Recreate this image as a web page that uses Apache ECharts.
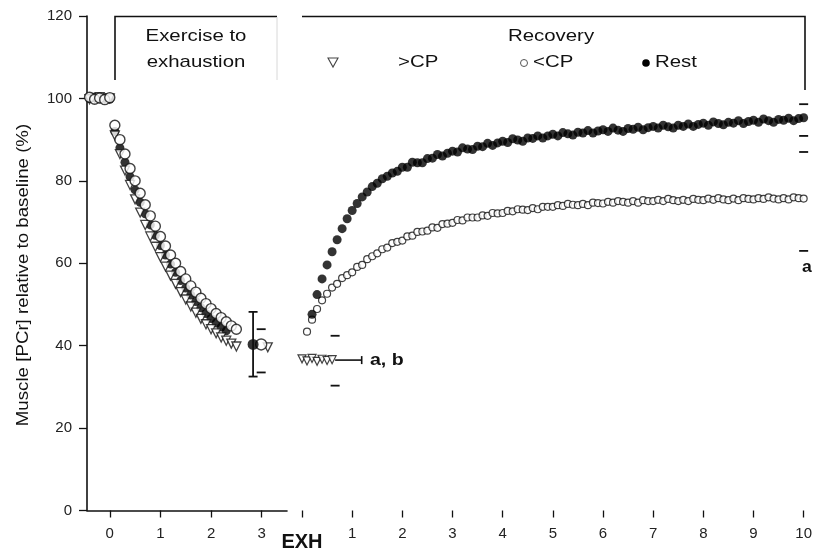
<!DOCTYPE html>
<html>
<head>
<meta charset="utf-8">
<script src="https://cdn.jsdelivr.net/npm/echarts@6/dist/echarts.min.js"></script>
<style>
  html, body { margin: 0; padding: 0; background: #fff; }
  #chart { width: 815px; height: 554px; }
</style>
</head>
<body>
<div id="chart"></div>
<script>
// Muscle [PCr] during exercise to exhaustion and during 10 min of recovery.

// ---- exercise phase (min from exercise onset) ----
const exTime = [-0.4, -0.3, -0.2, -0.1, 0.0, 0.1, 0.2, 0.3, 0.4, 0.5, 0.6, 0.7, 0.8, 0.9, 1.0,
                1.1, 1.2, 1.3, 1.4, 1.5, 1.6, 1.7, 1.8, 1.9, 2.0, 2.1, 2.2, 2.3, 2.4, 2.5];
const exBelowCP = [100.3, 99.8, 100.1, 99.7, 100.2, 93.5, 90.0, 86.5, 83.0, 80.0, 77.0, 74.2, 71.5, 69.0, 66.5,
                   64.2, 62.0, 60.0, 58.0, 56.2, 54.5, 53.0, 51.5, 50.2, 49.0, 47.8, 46.8, 45.8, 44.8, 44.0];
const exRest = [100.0, 100.2, 99.9, 100.1, 99.8, 92.0, 88.0, 84.5, 81.0, 77.8, 74.8, 72.0, 69.3, 66.8, 64.3,
                62.0, 59.8, 57.8, 55.8, 54.0, 52.3, 50.7, 49.2, 47.8, 46.6, 45.5, 44.5, 43.6, null, null];
const exAboveCP = [99.8, 100.1, 100.3, 99.9, 100.0, 91.0, 86.5, 82.5, 79.0, 75.5, 72.3, 69.3, 66.5, 64.0, 61.5,
                   59.2, 57.0, 55.0, 53.0, 51.2, 49.5, 48.0, 46.5, 45.2, 44.0, 43.0, 42.0, 41.2, 40.5, 39.8];

// values at exhaustion: Rest, <CP, >CP groups
const exhTime = [2.83, 2.99, 3.12];
const exhValue = [40.3, 40.3, 39.6];
const exhLow = [32.5, 33.5, null];
const exhHigh = [48.2, 44.0, null];

// ---- recovery phase (min after exhaustion) ----
const recTime = [0.1, 0.2, 0.3, 0.4, 0.5, 0.6, 0.7, 0.8, 0.9, 1.0,
                 1.1, 1.2, 1.3, 1.4, 1.5, 1.6, 1.7, 1.8, 1.9, 2.0,
                 2.1, 2.2, 2.3, 2.4, 2.5, 2.6, 2.7, 2.8, 2.9, 3.0,
                 3.1, 3.2, 3.3, 3.4, 3.5, 3.6, 3.7, 3.8, 3.9, 4.0,
                 4.1, 4.2, 4.3, 4.4, 4.5, 4.6, 4.7, 4.8, 4.9, 5.0,
                 5.1, 5.2, 5.3, 5.4, 5.5, 5.6, 5.7, 5.8, 5.9, 6.0,
                 6.1, 6.2, 6.3, 6.4, 6.5, 6.6, 6.7, 6.8, 6.9, 7.0,
                 7.1, 7.2, 7.3, 7.4, 7.5, 7.6, 7.7, 7.8, 7.9, 8.0,
                 8.1, 8.2, 8.3, 8.4, 8.5, 8.6, 8.7, 8.8, 8.9, 9.0,
                 9.1, 9.2, 9.3, 9.4, 9.5, 9.6, 9.7, 9.8, 9.9, 10.0];
const recRest = [null, 47.6, 52.4, 56.2, 59.6, 62.8, 65.7, 68.4, 70.8, 72.8,
                 74.5, 76.1, 77.3, 78.6, 79.4, 80.5, 81.1, 81.9, 82.3, 83.3,
                 83.3, 84.5, 84.4, 84.4, 85.4, 85.5, 86.4, 86.0, 86.7, 87.2,
                 87.0, 88.0, 87.7, 87.6, 88.4, 88.3, 89.1, 88.6, 89.2, 89.6,
                 89.3, 90.2, 89.9, 89.6, 90.4, 90.3, 90.9, 90.4, 90.9, 91.3,
                 90.9, 91.7, 91.4, 91.1, 91.8, 91.6, 92.2, 91.6, 92.1, 92.4,
                 92.0, 92.8, 92.3, 92.0, 92.7, 92.5, 93.0, 92.4, 92.9, 93.2,
                 92.8, 93.5, 93.1, 92.8, 93.5, 93.2, 93.8, 93.2, 93.7, 94.0,
                 93.5, 94.3, 93.9, 93.6, 94.2, 94.0, 94.6, 93.9, 94.4, 94.7,
                 94.2, 95.0, 94.6, 94.2, 94.9, 94.7, 95.2, 94.6, 95.1, 95.3];
const recBelowCP = [43.4, 46.3, 48.9, 51.0, 52.6, 54.1, 55.0, 56.4, 57.1, 57.8,
                    59.1, 59.6, 61.0, 61.7, 62.4, 63.4, 63.8, 64.9, 65.2, 65.5,
                    66.5, 66.7, 67.6, 67.7, 67.9, 68.7, 68.6, 69.5, 69.6, 69.8,
                    70.5, 70.4, 71.1, 71.1, 71.1, 71.6, 71.5, 72.2, 72.1, 72.2,
                    72.7, 72.6, 73.1, 73.0, 72.9, 73.4, 73.1, 73.7, 73.7, 73.7,
                    74.1, 73.9, 74.4, 74.2, 74.1, 74.4, 74.1, 74.7, 74.6, 74.5,
                    74.9, 74.7, 75.1, 74.9, 74.7, 75.1, 74.7, 75.3, 75.1, 75.1,
                    75.4, 75.1, 75.6, 75.3, 75.1, 75.4, 75.1, 75.6, 75.4, 75.3,
                    75.7, 75.4, 75.8, 75.5, 75.3, 75.7, 75.3, 75.8, 75.6, 75.5,
                    75.8, 75.6, 76.0, 75.7, 75.5, 75.8, 75.5, 76.0, 75.8, 75.7];
// >CP recovery bout ended almost at once
const recAboveTime = [0.0, 0.1, 0.2, 0.3, 0.4, 0.5, 0.6];
const recAboveCP = [36.8, 36.3, 36.9, 36.2, 36.7, 36.4, 36.6];
const aboveEndTime = [0.66, 1.19];       // mean and upper time of bout end
const aboveEndRange = [30.3, 36.5, 42.4]; // low, mean, high PCr at bout end

// end-of-recovery spread (low, high) at 10 min
const endRestRange = [90.9, 98.6];
const endBelowRange = [63.0, 87.0];

const xTicksExercise = [0, 1, 2, 3];
const recoveryTickLabels = ['EXH', '1', '2', '3', '4', '5', '6', '7', '8', '9', '10'];

// ---------------------------------------------------------------
const ink = '#111';
const font = '"Liberation Sans", Arial, Helvetica, sans-serif';
const myChart = echarts.init(document.getElementById('chart'), null, { renderer: 'canvas' });

function pairs(ts, vs) {
  const out = [];
  ts.forEach((t, i) => { if (vs[i] != null) out.push([t, vs[i]]); });
  return out;
}

function renderCaps(params, api) {
  const x = api.value(0), lo = api.value(1), hi = api.value(2), stem = api.value(3);
  const a = api.coord([x, lo]), b = api.coord([x, hi]);
  const w = 4.5, st = { stroke: ink, lineWidth: 1.8 };
  const kids = [
    { type: 'line', shape: { x1: a[0] - w, y1: a[1], x2: a[0] + w, y2: a[1] }, style: st },
    { type: 'line', shape: { x1: b[0] - w, y1: b[1], x2: b[0] + w, y2: b[1] }, style: st }
  ];
  if (stem) kids.push({ type: 'line', shape: { x1: a[0], y1: a[1], x2: b[0], y2: b[1] }, style: st });
  return { type: 'group', children: kids };
}

function renderHBar(params, api) {
  const a = api.coord([api.value(0), api.value(2)]);
  const b = api.coord([api.value(1), api.value(2)]);
  const st = { stroke: ink, lineWidth: 1.6 };
  return { type: 'group', children: [
    { type: 'line', shape: { x1: a[0], y1: a[1], x2: b[0], y2: b[1] }, style: st },
    { type: 'line', shape: { x1: b[0], y1: b[1] - 4, x2: b[0], y2: b[1] + 4 }, style: st }
  ]};
}

const openCircle = (size) => ({
  type: 'scatter', symbol: 'circle', symbolSize: size,
  itemStyle: { color: '#fff', borderColor: ink, borderWidth: 1.4 }
});

const labelStyle = { color: '#222', fontSize: 15, fontFamily: font };

const option = {
  backgroundColor: '#fff',
  animation: false,
  grid: [
    { left: 87, top: 16, width: 200, height: 494.5 },
    { left: 302, top: 16, width: 503, height: 494.5 }
  ],
  xAxis: [
    {
      type: 'value', gridIndex: 0, min: -0.45, max: 3.5,
      splitLine: { show: false },
      axisLine: { onZero: false, lineStyle: { color: ink, width: 1.6 } },
      axisTick: { customValues: xTicksExercise, length: 7, lineStyle: { color: ink, width: 1.3 } },
      axisLabel: Object.assign({ customValues: xTicksExercise, margin: 16 }, labelStyle)
    },
    {
      type: 'value', gridIndex: 1, min: 0, max: 10, interval: 1,
      splitLine: { show: false },
      axisLine: { show: false },
      axisTick: { show: true, length: 7, lineStyle: { color: ink, width: 1.3 } },
      axisLabel: Object.assign({
        margin: 16, showMaxLabel: true,
        formatter: (v) => v === 0 ? '{exh|' + recoveryTickLabels[0] + '}' : recoveryTickLabels[Math.round(v)],
        rich: { exh: { fontSize: 20, fontWeight: 'bold', color: ink, fontFamily: font, padding: [6, 0, 0, 0] } }
      }, labelStyle)
    }
  ],
  yAxis: [
    {
      type: 'value', gridIndex: 0, min: 0, max: 120, interval: 20,
      splitLine: { show: false },
      axisLine: { onZero: false, lineStyle: { color: ink, width: 1.6 } },
      axisTick: { length: 8, lineStyle: { color: ink, width: 1.3 } },
      axisLabel: Object.assign({ margin: 15 }, labelStyle)
    },
    { type: 'value', gridIndex: 1, min: 0, max: 120, show: false }
  ],
  series: [
    // exercise
    { type: 'scatter', name: 'Rest', xAxisIndex: 0, yAxisIndex: 0, symbolSize: 9,
      itemStyle: { color: '#000' }, data: pairs(exTime, exRest), z: 2 },
    { type: 'scatter', name: '>CP', xAxisIndex: 0, yAxisIndex: 0, symbol: 'triangle', symbolRotate: 180,
      symbolSize: 9, itemStyle: { color: '#fff', borderColor: ink, borderWidth: 1.3 },
      data: pairs(exTime, exAboveCP), z: 3 },
    Object.assign(openCircle(10), { name: '<CP', xAxisIndex: 0, yAxisIndex: 0,
      data: pairs(exTime, exBelowCP), z: 4 }),
    // values at exhaustion
    { type: 'scatter', xAxisIndex: 0, yAxisIndex: 0, symbol: 'triangle', symbolRotate: 180, symbolSize: 9,
      itemStyle: { color: '#fff', borderColor: ink, borderWidth: 1.3 },
      data: [[exhTime[2], exhValue[2]]], z: 3 },
    Object.assign(openCircle(11), { xAxisIndex: 0, yAxisIndex: 0,
      data: [[exhTime[1], exhValue[1]]], z: 4 }),
    { type: 'scatter', xAxisIndex: 0, yAxisIndex: 0, symbolSize: 11, itemStyle: { color: '#000' },
      data: [[exhTime[0], exhValue[0]]], z: 5 },
    { type: 'custom', xAxisIndex: 0, yAxisIndex: 0, renderItem: renderCaps, z: 6,
      encode: { x: 0, y: [1, 2] },
      data: [[exhTime[0], exhLow[0], exhHigh[0], 1], [exhTime[1], exhLow[1], exhHigh[1], 0]] },

    // recovery
    Object.assign(openCircle(7), { name: '<CP', xAxisIndex: 1, yAxisIndex: 1,
      itemStyle: { color: '#fff', borderColor: ink, borderWidth: 1.2 },
      data: pairs(recTime, recBelowCP), z: 3 }),
    { type: 'scatter', name: 'Rest', xAxisIndex: 1, yAxisIndex: 1, symbolSize: 9,
      itemStyle: { color: '#000' }, data: pairs(recTime, recRest), z: 4 },
    { type: 'scatter', name: '>CP', xAxisIndex: 1, yAxisIndex: 1, symbol: 'triangle', symbolRotate: 180,
      symbolSize: 8, itemStyle: { color: '#fff', borderColor: ink, borderWidth: 1.2 },
      data: pairs(recAboveTime, recAboveCP), z: 5 },
    { type: 'custom', xAxisIndex: 1, yAxisIndex: 1, renderItem: renderHBar, z: 4,
      encode: { x: [0, 1], y: 2 },
      data: [[aboveEndTime[0], aboveEndTime[1], aboveEndRange[1]]] },
    { type: 'custom', xAxisIndex: 1, yAxisIndex: 1, renderItem: renderCaps, z: 6,
      encode: { x: 0, y: [1, 2] },
      data: [[aboveEndTime[0], aboveEndRange[0], aboveEndRange[2], 0],
             [10, endRestRange[0], endRestRange[1], 0],
             [10, endBelowRange[0], endBelowRange[1], 0]] }
  ],
  graphic: [
    // y-axis title
    { type: 'text', x: 23, y: 275, rotation: Math.PI / 2, scaleX: 1.1,
      style: { text: 'Muscle [PCr] relative to baseline (%)', font: '17px ' + font, fill: ink,
               textAlign: 'center', textVerticalAlign: 'middle' } },
    // phase brackets
    { type: 'polyline', shape: { points: [[115, 80], [115, 16.5], [277, 16.5]] },
      style: { stroke: ink, lineWidth: 1.6, fill: null } },
    { type: 'line', shape: { x1: 277, y1: 17, x2: 277, y2: 80 }, style: { stroke: '#d8d8d8', lineWidth: 1 } },
    { type: 'polyline', shape: { points: [[302, 16.5], [805, 16.5], [805, 90]] },
      style: { stroke: ink, lineWidth: 1.6, fill: null } },
    { type: 'text', x: 196, y: 36, scaleX: 1.2,
      style: { text: 'Exercise to', font: '17px ' + font, fill: ink, textAlign: 'center', textVerticalAlign: 'middle' } },
    { type: 'text', x: 196, y: 62, scaleX: 1.2,
      style: { text: 'exhaustion', font: '17px ' + font, fill: ink, textAlign: 'center', textVerticalAlign: 'middle' } },
    { type: 'text', x: 551, y: 36, scaleX: 1.2,
      style: { text: 'Recovery', font: '17px ' + font, fill: ink, textAlign: 'center', textVerticalAlign: 'middle' } },
    // key
    { type: 'polygon', shape: { points: [[328, 58], [338, 58], [333, 67]] },
      style: { fill: '#fff', stroke: '#444', lineWidth: 1.1 } },
    { type: 'text', x: 398, y: 62, scaleX: 1.2,
      style: { text: '>CP', font: '17px ' + font, fill: ink, textAlign: 'left', textVerticalAlign: 'middle' } },
    { type: 'circle', shape: { cx: 524, cy: 63, r: 3.5 }, style: { fill: '#fff', stroke: '#555', lineWidth: 1 } },
    { type: 'text', x: 533, y: 62, scaleX: 1.2,
      style: { text: '<CP', font: '17px ' + font, fill: ink, textAlign: 'left', textVerticalAlign: 'middle' } },
    { type: 'circle', shape: { cx: 646, cy: 63, r: 3.8 }, style: { fill: '#000' } },
    { type: 'text', x: 655, y: 62, scaleX: 1.2,
      style: { text: 'Rest', font: '17px ' + font, fill: ink, textAlign: 'left', textVerticalAlign: 'middle' } },
    // significance marks
    { type: 'text', x: 370, y: 360, scaleX: 1.15,
      style: { text: 'a, b', font: 'bold 17px ' + font, fill: ink, textAlign: 'left', textVerticalAlign: 'middle' } },
    { type: 'text', x: 807, y: 268, scaleX: 1.1,
      style: { text: 'a', font: 'bold 16px ' + font, fill: ink, textAlign: 'center', textVerticalAlign: 'middle' } }
  ]
};

myChart.setOption(option);
</script>
</body>
</html>
